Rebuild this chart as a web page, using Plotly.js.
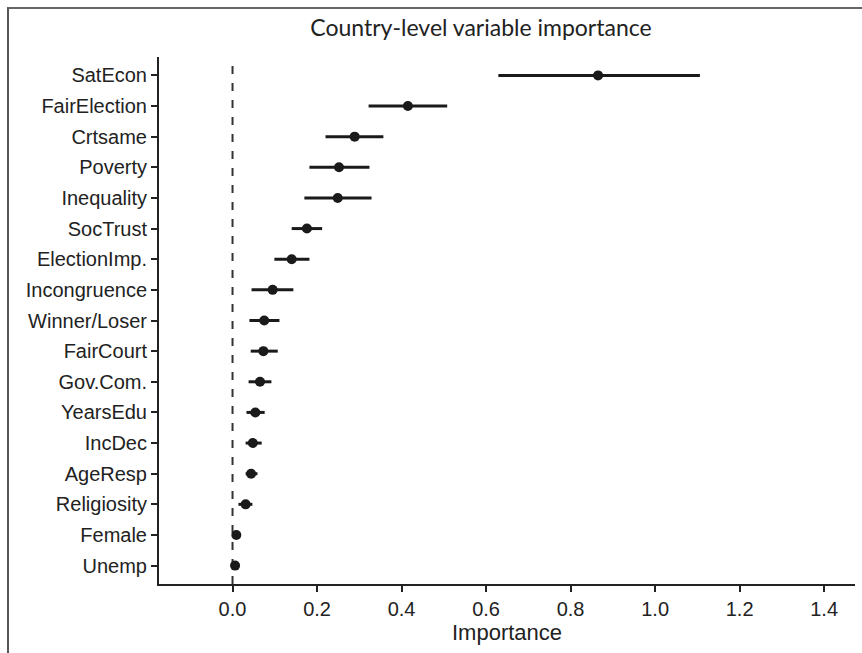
<!DOCTYPE html>
<html>
<head>
<meta charset="utf-8">
<script src="https://cdn.plot.ly/plotly-3.0.1.min.js"></script>
<style>
  html, body { margin: 0; padding: 0; background: #fff; }
  #wrap { position: relative; width: 862px; height: 653px; overflow: hidden; }
  #chart { position: absolute; left: 0; top: 0; width: 862px; height: 653px; }
  #frame { position: absolute; left: 7px; top: 7px; width: 870px; height: 660px;
           border-left: 2px solid #555; border-top: 2px solid #666; pointer-events: none; }
</style>
</head>
<body>
<div id="wrap">
  <div id="chart"></div>
  <div id="frame"></div>
</div>
<script>
// Variables from top to bottom as shown in the chart
const variables = ["SatEcon", "FairElection", "Crtsame", "Poverty", "Inequality", "SocTrust",
  "ElectionImp.", "Incongruence", "Winner/Loser", "FairCourt", "Gov.Com.", "YearsEdu",
  "IncDec", "AgeResp", "Religiosity", "Female", "Unemp"];
const importance = [0.865, 0.415, 0.289, 0.252, 0.249, 0.176, 0.140, 0.095, 0.075, 0.073,
  0.065, 0.054, 0.048, 0.044, 0.031, 0.009, 0.006];
const lower = [0.629, 0.322, 0.220, 0.182, 0.170, 0.140, 0.099, 0.045, 0.040, 0.043,
  0.038, 0.033, 0.031, 0.031, 0.014, 0.005, 0.003];
const upper = [1.106, 0.508, 0.357, 0.324, 0.329, 0.212, 0.182, 0.144, 0.111, 0.107,
  0.092, 0.076, 0.069, 0.059, 0.047, 0.013, 0.010];
const xTicks = [0.0, 0.2, 0.4, 0.6, 0.8, 1.0, 1.2, 1.4];
const xTickLabels = ["0.0", "0.2", "0.4", "0.6", "0.8", "1.0", "1.2", "1.4"];

const ink = "#1a1a1a";
const sans = "Arial";
const trace = {
  type: "scatter",
  mode: "markers",
  x: importance,
  y: variables,
  marker: { color: ink, size: 10 },
  error_x: {
    type: "data",
    symmetric: false,
    array: importance.map((v, i) => upper[i] - v),
    arrayminus: importance.map((v, i) => v - lower[i]),
    color: ink,
    thickness: 3,
    width: 0
  },
  hoverinfo: "x+y",
  showlegend: false
};

const layout = {
  width: 862,
  height: 653,
  margin: { l: 159, r: 7, t: 57, b: 69 },
  paper_bgcolor: "#fff",
  plot_bgcolor: "#fff",
  font: { family: sans, color: "#222", size: 20 },
  title: {
    text: "Country-level variable importance",
    font: { family: "Lato", size: 23, color: "#222" },
    xref: "paper", xanchor: "center",
    y: 1, yref: "container", yanchor: "top", pad: { t: 20 }
  },
  xaxis: {
    range: [-0.174, 1.473],
    tickmode: "array",
    tickvals: xTicks,
    ticktext: xTickLabels,
    ticks: "outside",
    ticklen: 6,
    tickwidth: 2,
    tickcolor: "#222",
    showline: true,
    linecolor: "#222",
    linewidth: 2,
    showgrid: false,
    zeroline: false,
    tickfont: { family: sans, size: 20, color: "#222" },
    title: { text: "Importance", font: { family: sans, size: 22, color: "#222" }, standoff: 6 }
  },
  yaxis: {
    type: "category",
    categoryorder: "array",
    categoryarray: variables.slice().reverse(),
    range: [-0.6, 16.6],
    ticks: "outside",
    ticklen: 6,
    tickwidth: 2,
    tickcolor: "#222",
    showline: true,
    linecolor: "#222",
    linewidth: 2,
    showgrid: false,
    zeroline: false,
    tickfont: { family: sans, size: 20, color: "#222" }
  },
  shapes: [{
    type: "line",
    xref: "x", yref: "paper",
    x0: 0, x1: 0, y0: 0, y1: 0.99,
    line: { color: "#333", width: 2, dash: "8px,9px" },
    layer: "below"
  }]
};

// title centre given in pixels -> paper fraction of the plot area
layout.title.x = (481 - layout.margin.l) / (862 - layout.margin.l - layout.margin.r);

Plotly.newPlot("chart", [trace], layout, { displayModeBar: false, staticPlot: true });
</script>
</body>
</html>
